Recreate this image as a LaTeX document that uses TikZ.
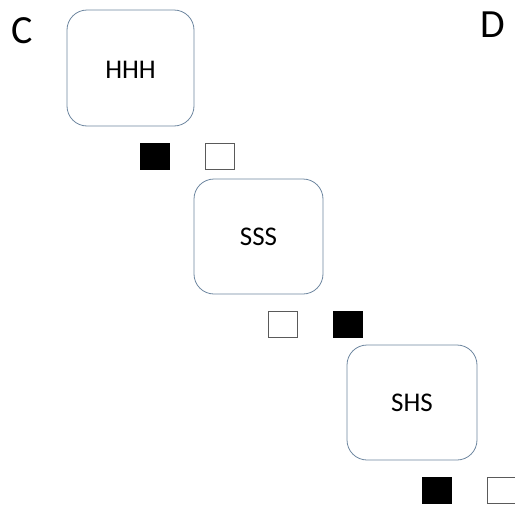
\documentclass[tikz,border=0pt]{standalone}
\usepackage{fontspec}
\setmainfont{Carlito}
\definecolor{boxline}{RGB}{110,135,160}
\definecolor{sqline}{RGB}{90,90,90}
\tikzset{
  statebox/.style={draw=boxline, line width=0.8pt, rounded corners=20pt, fill=white, inner sep=0pt},
  blacksq/.style={draw=black, fill=black, line width=0.6pt, inner sep=0pt, minimum width=29pt, minimum height=26pt},
  whitesq/.style={draw=sqline, fill=white, line width=0.8pt, inner sep=0pt, minimum width=29pt, minimum height=26pt},
  lbl/.style={font=\fontsize{27}{30}\selectfont, text=black},
  corner/.style={font=\fontsize{40}{44}\selectfont, inner sep=0pt, text=black},
}
\begin{document}
\begin{tikzpicture}[x=1pt,y=-1pt]
\useasboundingbox (0,0) rectangle (515,509);
% boxes
\draw[statebox] (67,10) rectangle (194,126);
\node[lbl] (hhh) at (130.5,70) {HHH};
\draw[statebox] (194,179) rectangle (323,294);
\node[lbl] (sss) at (258.5,237) {SSS};
\draw[statebox] (347,345) rectangle (477,460);
\node[lbl] (shs) at (412,403) {SHS};
% squares
\node[blacksq] (b1) at (155,156) {};
\node[whitesq] (w1) at (219.5,156) {};
\node[whitesq] (w2) at (283,324.5) {};
\node[blacksq] (b2) at (348,324.5) {};
\node[blacksq] (b3) at (437,490) {};
\node[whitesq] (w3) at (501.5,490) {};
% letters
\node[corner, anchor=base] (c) at (22,43) {C};
\node[corner, anchor=base] (d) at (492.5,37) {D};
\end{tikzpicture}
\end{document}
